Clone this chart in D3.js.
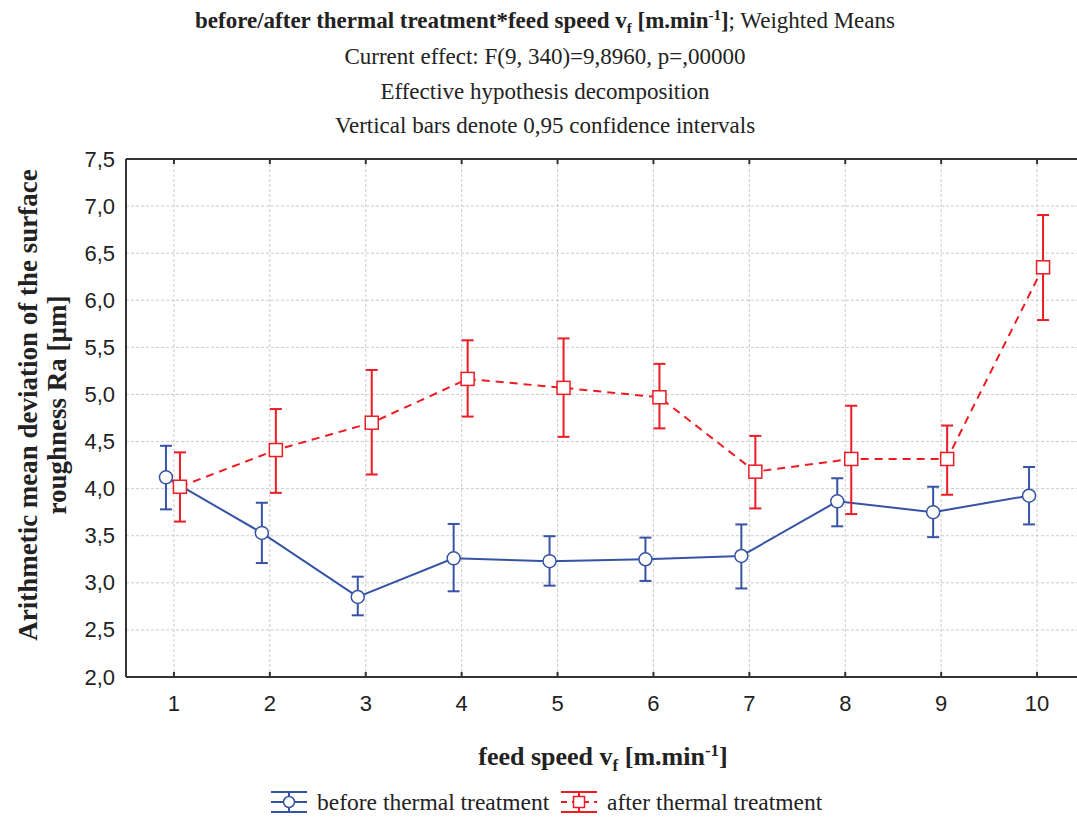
<!DOCTYPE html>
<html>
<head>
<meta charset="utf-8">
<script src="https://cdn.jsdelivr.net/npm/d3@7"></script>
<style>
  body { margin: 0; background: #fff; }
  svg { display: block; }
</style>
</head>
<body>
<div id="chart"></div>
<script>
// values
let categories = ["1", "2", "3", "4", "5", "6", "7", "8", "9", "10"];
let yTicks = [2.0, 2.5, 3.0, 3.5, 4.0, 4.5, 5.0, 5.5, 6.0, 6.5, 7.0, 7.5];

let beforeMean  = [4.12, 3.53, 2.85, 3.26, 3.23, 3.25, 3.285, 3.865, 3.75, 3.925];
let beforeUpper = [4.455, 3.85, 3.065, 3.625, 3.495, 3.48, 3.62, 4.11, 4.02, 4.23];
let beforeLower = [3.78, 3.21, 2.655, 2.91, 2.97, 3.02, 2.94, 3.60, 3.485, 3.62];

let afterMean  = [4.02, 4.41, 4.70, 5.165, 5.07, 4.97, 4.18, 4.315, 4.315, 6.35];
let afterUpper = [4.385, 4.845, 5.26, 5.575, 5.595, 5.325, 4.56, 4.88, 4.67, 6.905];
let afterLower = [3.65, 3.955, 4.15, 4.765, 4.55, 4.64, 3.79, 3.73, 3.935, 5.79];

let width = 1077, height = 817,
    margin = {top: 159, left: 126, bottom: 140},
    plotW = 959,
    plotH = height - margin.top - margin.bottom;

let blue = "#3653a5", red = "#ec1c24", grid = "#cccccc";
let serif = "'Liberation Serif', 'Times New Roman', serif",
    sans = "'Liberation Sans', Arial, sans-serif";

let svg = d3.select("#chart").append("svg")
    .attr("width", width)
    .attr("height", height);

let x = d3.scaleBand().domain(categories).range([margin.left, margin.left + plotW]);
let y = d3.scaleLinear().domain([2, 7.5]).range([margin.top + plotH, margin.top]);
let cx = d => x(d) + x.bandwidth() / 2;

// title
let titles = svg.append("g").attr("font-family", serif).attr("font-size", 23)
    .attr("fill", "#222").attr("text-anchor", "middle");
let t1 = titles.append("text").attr("x", 545).attr("y", 28);
t1.append("tspan").attr("font-weight", "bold").text("before/after thermal treatment*feed speed v");
t1.append("tspan").attr("font-weight", "bold").attr("font-size", 15).attr("dy", 5).text("f");
t1.append("tspan").attr("font-weight", "bold").attr("dy", -5).text(" [m.min");
t1.append("tspan").attr("font-weight", "bold").attr("font-size", 15).attr("dy", -8).text("-1");
t1.append("tspan").attr("font-weight", "bold").attr("dy", 8).text("]");
t1.append("tspan").text("; Weighted Means");
titles.append("text").attr("x", 545).attr("y", 64).text("Current effect: F(9, 340)=9,8960, p=,00000");
titles.append("text").attr("x", 545).attr("y", 99).text("Effective hypothesis decomposition");
titles.append("text").attr("x", 545).attr("y", 133).text("Vertical bars denote 0,95 confidence intervals");

// grid
let g = svg.append("g");
g.selectAll(".hgrid").data(yTicks.slice(1, -1)).enter().append("line")
    .attr("x1", margin.left).attr("x2", margin.left + plotW)
    .attr("y1", d => y(d)).attr("y2", d => y(d))
    .attr("stroke", grid).attr("stroke-dasharray", "3,2");
g.selectAll(".vgrid").data(categories).enter().append("line")
    .attr("x1", cx).attr("x2", cx)
    .attr("y1", margin.top).attr("y2", margin.top + plotH)
    .attr("stroke", grid).attr("stroke-dasharray", "3,2");

// axes
let fmt = d => d3.format(".1f")(d).replace(".", ",");
let yAxis = svg.append("g").attr("transform", `translate(${margin.left},0)`)
    .call(d3.axisLeft(y).tickValues(yTicks).tickFormat(fmt).tickSize(0).tickPadding(11));
let xAxis = svg.append("g").attr("transform", `translate(0,${margin.top + plotH})`)
    .call(d3.axisBottom(x).tickSize(-5).tickPadding(18));
let topAxis = svg.append("g").attr("transform", `translate(0,${margin.top})`)
    .call(d3.axisTop(x).tickSize(-5).tickFormat(""));
[yAxis, xAxis, topAxis].forEach(a => {
    a.select(".domain").attr("stroke", "#333").attr("stroke-width", 2);
    a.selectAll(".tick line").attr("stroke", "#333").attr("stroke-width", 2);
    a.selectAll("text").attr("font-family", sans).attr("font-size", 22).attr("fill", "#222");
});
topAxis.select(".domain").attr("d", `M${margin.left},0H${margin.left + plotW}`);
xAxis.select(".domain").attr("d", `M${margin.left},0H${margin.left + plotW}`);
yAxis.select(".domain").attr("d", `M0,${margin.top}V${margin.top + plotH}`);

// axis titles
let xl = svg.append("text").attr("x", 603).attr("y", 765).attr("text-anchor", "middle")
    .attr("font-family", serif).attr("font-size", 26).attr("font-weight", "bold").attr("fill", "#222");
xl.append("tspan").text("feed speed v");
xl.append("tspan").attr("font-size", 17).attr("dy", 6).text("f");
xl.append("tspan").attr("dy", -6).text(" [m.min");
xl.append("tspan").attr("font-size", 17).attr("dy", -9).text("-1");
xl.append("tspan").attr("dy", 9).text("]");

let yl = svg.append("g").attr("transform", "translate(0,405) rotate(-90)")
    .attr("font-family", serif).attr("font-size", 27).attr("font-weight", "bold")
    .attr("fill", "#222").attr("text-anchor", "middle");
yl.append("text").attr("x", 0).attr("y", 37).text("Arithmetic mean deviation of the surface");
yl.append("text").attr("x", 0).attr("y", 66).text("roughness Ra [µm]");

// series
function series(mean, upper, lower, color, dx, dash, shape) {
    let s = svg.append("g");
    let line = d3.line().x((d, i) => cx(categories[i]) + dx).y(d => y(d));
    s.append("path").datum(mean).attr("d", line).attr("fill", "none")
        .attr("stroke", color).attr("stroke-width", 2).attr("stroke-dasharray", dash);
    categories.forEach((c, i) => {
        let px = cx(c) + dx;
        s.append("line").attr("x1", px).attr("x2", px).attr("y1", y(upper[i])).attr("y2", y(lower[i]))
            .attr("stroke", color).attr("stroke-width", 2);
        [upper[i], lower[i]].forEach(v => s.append("line")
            .attr("x1", px - 6).attr("x2", px + 6).attr("y1", y(v)).attr("y2", y(v))
            .attr("stroke", color).attr("stroke-width", 2));
        if (shape == "circle") {
            s.append("circle").attr("cx", px).attr("cy", y(mean[i])).attr("r", 6.5)
                .attr("fill", "#fff").attr("stroke", color).attr("stroke-width", 1.5);
        } else {
            s.append("rect").attr("x", px - 6.5).attr("y", y(mean[i]) - 6.5).attr("width", 13).attr("height", 13)
                .attr("fill", "#fff").attr("stroke", color).attr("stroke-width", 1.5);
        }
    });
}
series(beforeMean, beforeUpper, beforeLower, blue, -8, null, "circle");
series(afterMean, afterUpper, afterLower, red, 6, "8,6", "square");

// legend
function legendItem(lx, color, dash, shape, label) {
    let l = svg.append("g").attr("transform", `translate(${lx},802)`);
    l.append("line").attr("x1", 0).attr("x2", 36).attr("y1", -10).attr("y2", -10).attr("stroke", color).attr("stroke-width", 2);
    l.append("line").attr("x1", 0).attr("x2", 36).attr("y1", 10).attr("y2", 10).attr("stroke", color).attr("stroke-width", 2);
    l.append("line").attr("x1", 18).attr("x2", 18).attr("y1", -10).attr("y2", 10).attr("stroke", color).attr("stroke-width", 2);
    l.append("line").attr("x1", 0).attr("x2", 36).attr("y1", 0).attr("y2", 0).attr("stroke", color)
        .attr("stroke-width", 2).attr("stroke-dasharray", dash);
    if (shape == "circle") {
        l.append("circle").attr("cx", 18).attr("cy", 0).attr("r", 5.5).attr("fill", "#fff").attr("stroke", color).attr("stroke-width", 1.5);
    } else {
        l.append("rect").attr("x", 12.5).attr("y", -5.5).attr("width", 11).attr("height", 11).attr("fill", "#fff").attr("stroke", color).attr("stroke-width", 1.5);
    }
    l.append("text").attr("x", 46).attr("y", 8).attr("font-family", serif).attr("font-size", 23.5)
        .attr("fill", "#222").text(label);
}
legendItem(271, blue, null, "circle", "before thermal treatment");
legendItem(561, red, "6,5", "square", "after thermal treatment");
</script>
</body>
</html>
